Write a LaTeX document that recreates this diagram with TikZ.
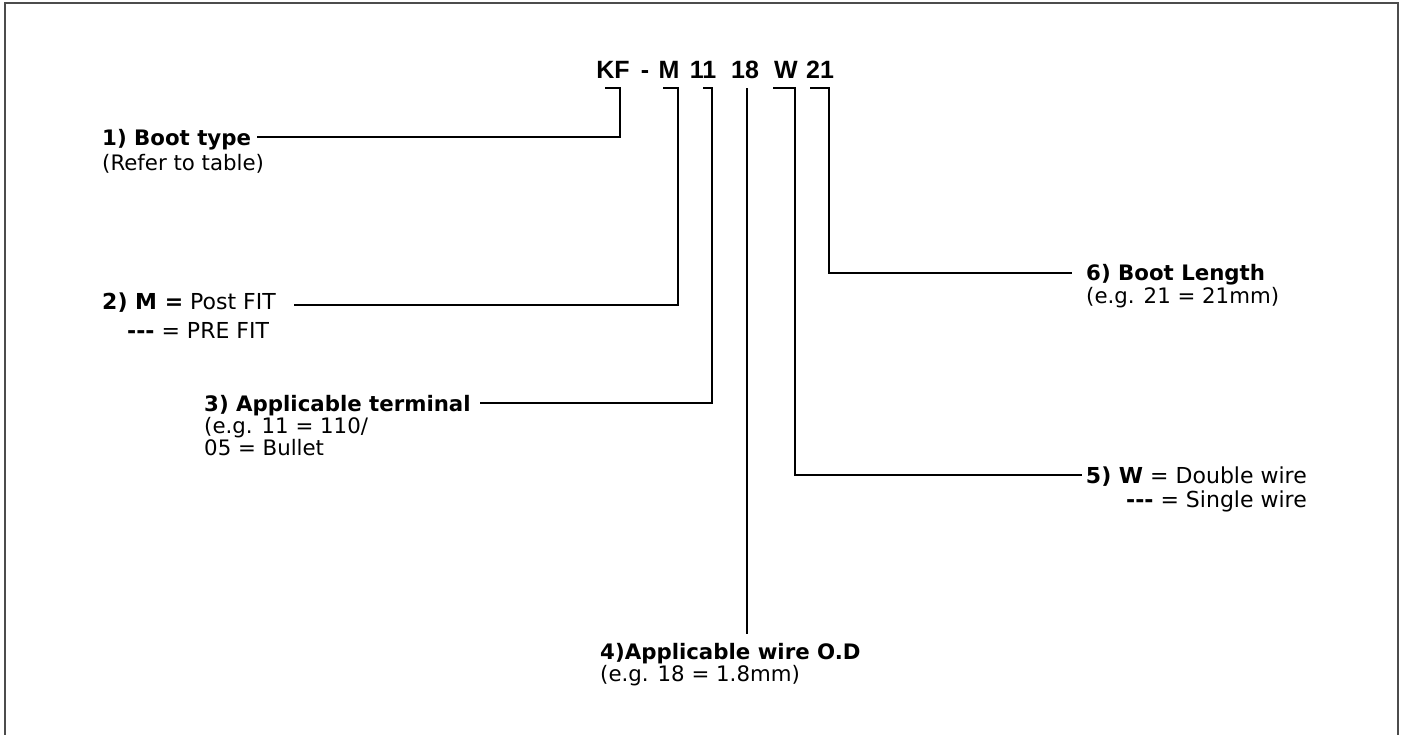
\documentclass[tikz,border=0pt]{standalone}
\usepackage{fontspec}
\setmainfont{DejaVu Sans}[Ligatures=TeXOff]
\newfontfamily\partfont{Liberation Sans}[Ligatures=TeXOff]
\usetikzlibrary{
  positioning,
}
\tikzset{
  lead/.style={line width=2pt},
  part/.style={font=\partfont\bfseries\fontsize{25}{29}\selectfont,inner sep=0pt,anchor=base},
  note/.style={inner sep=0pt,anchor=base west,font=\fontsize{21.3}{25}\selectfont},
  notewide/.style={note,font=\fontsize{22}{26}\selectfont},
}

\begin{document}
\begin{tikzpicture}[x=1pt,y=-1pt,node distance=0mm and 0mm]
      \useasboundingbox (0,0) rectangle (1404,734);
      \draw[black!70,line width=2pt] (5,3) rectangle (1398,745);

      % part number
      \node[part] (kf)   at (613,78) {KF};
      \node[part] (dash) at (645,78) {-};
      \node[part] (m)    at (669,78) {M};
      \node[part] (t11)  at (703,78) {11};
      \node[part] (d18)  at (745,78) {18};
      \node[part] (w)    at (786,78) {W};
      \node[part] (l21)  at (820,78) {21};

      % notes
      \node[note] (boot) at (102,145) {\bfseries 1) Boot type};
      \node[note,below=25pt of boot.base west,anchor=base west] (bootref) {(Refer to table)};

      \node[notewide] (fit) at (102,309) {\textbf{2) M =} Post FIT};
      \node[notewide] (prefit) at (127,338) {\textbf{---} = PRE FIT};

      \node[note] (term) at (204,411) {\bfseries 3) Applicable terminal};
      \node[note,below=22pt of term.base west,anchor=base west] (terma) {(e.g. 11 = 110/};
      \node[note,below=22pt of terma.base west,anchor=base west] (termb) {05 = Bullet};

      \node[note] (wire) at (600,659) {\bfseries 4)Applicable wire O.D};
      \node[note,below=22pt of wire.base west,anchor=base west] (wireod) {(e.g. 18 = 1.8mm)};

      \node[notewide,anchor=base east] (dbl) at (1307,483) {\textbf{5) W} = Double wire};
      \node[notewide,below=24pt of dbl.base east,anchor=base east] (sgl) {\textbf{---} = Single wire};

      \node[note] (len) at (1086,280) {\bfseries 6) Boot Length};
      \node[note,below=23pt of len.base west,anchor=base west] (lenmm) {(e.g. 21 = 21mm)};

      % brackets
      \coordinate (kfA) at (605,88);  \coordinate (kfB) at (620,137);
      \coordinate (mA)  at (663,88);  \coordinate (mB)  at (678,305);
      \coordinate (tA)  at (703,88);  \coordinate (tB)  at (712,403);
      \coordinate (dA)  at (747,88);
      \coordinate (wA)  at (773,88);  \coordinate (wB)  at (795,475);
      \coordinate (lA)  at (810,88);  \coordinate (lB)  at (829,273);

      \draw[lead,shorten >=6pt]  (kfA) -| (kfB) -- (kfB -| boot.east);
      \draw[lead,shorten >=18pt] (mA) -| (mB) -- (mB -| fit.east);
      \draw[lead,shorten >=9pt]  (tA) -| (tB) -- (tB -| term.east);
      \draw[lead,shorten >=9pt]  (dA) -- (dA |- wire.north);
      \draw[lead,shorten >=4pt]  (wA) -| (wB) -- (wB -| dbl.west);
      \draw[lead,shorten >=14pt] (lA) -| (lB) -- (lB -| len.west);
    \end{tikzpicture}
\end{document}
